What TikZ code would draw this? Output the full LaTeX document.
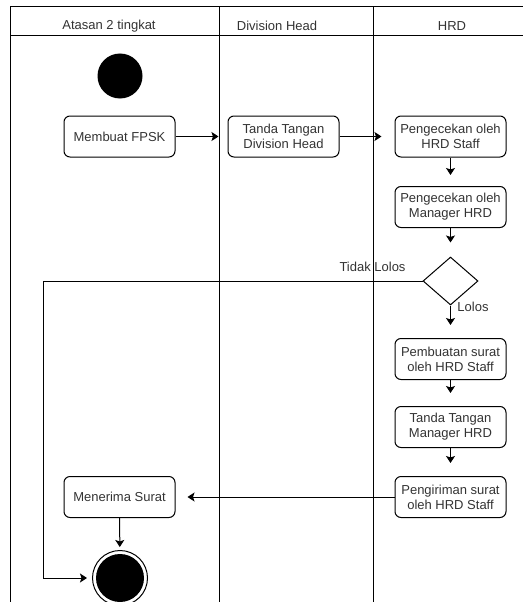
\documentclass[tikz,border=0pt]{standalone}
\usepackage{fontspec}
\setmainfont{Liberation Sans}
\usetikzlibrary{arrows.meta,shapes.geometric}
\begin{document}
\begin{tikzpicture}[x=1pt,y=-1pt,line width=1pt,
  txt/.style={font=\fontsize{13}{15}\selectfont,text=black!80},
  act/.style={txt,draw,rounded corners=6pt,minimum width=111pt,minimum height=41pt,
    align=center,inner sep=2pt},
  flow/.style={-{Stealth[length=7pt,width=9pt,inset=1.5pt]}},
  lbl/.style={txt,inner sep=0pt}]
\useasboundingbox (0,0) rectangle (523,602);

% swimlane pool
\draw (10,602) -- (10,7) -- (523,7);
\draw (10,36) -- (523,36);
\draw (219,7) -- (219,602);
\draw (373,7) -- (373,602);
\node[lbl] (laneA) at (109,26) {Atasan 2 tingkat};
\node[lbl] (laneB) at (277,26) {Division Head};
\node[lbl] (laneC) at (452,26) {HRD};

% initial node
\node[circle,fill=black,minimum size=45pt,inner sep=0pt] (start) at (120,76) {};

% activities
\node[act] (fpsk)   at (119.5,136.5) {Membuat FPSK};
\node[act] (dh)     at (283.5,136.5) {Tanda Tangan\\Division Head};
\node[act] (hrd1)   at (450.5,136.5) {Pengecekan oleh\\HRD Staff};
\node[act] (hrd2)   at (450.5,207)   {Pengecekan oleh\\Manager HRD};
\node[draw,diamond,minimum width=55pt,minimum height=48pt,inner sep=0pt] (dec) at (450.5,281) {};
\node[act] (surat)  at (450.5,359)   {Pembuatan surat\\oleh HRD Staff};
\node[act] (ttm)    at (450.5,427)   {Tanda Tangan\\Manager HRD};
\node[act] (kirim)  at (450.5,497)   {Pengiriman surat\\oleh HRD Staff};
\node[act] (terima) at (119.5,497)   {Menerima Surat};

% final node
\node[circle,draw,minimum size=55pt,inner sep=0pt] (endo) at (120,578) {};
\node[circle,fill=black,minimum size=48pt,inner sep=0pt] (endi) at (120,578) {};

% guard labels
\node[lbl] (tl) at (372.5,267) {Tidak Lolos};
\node[lbl] (ll) at (473,307) {Lolos};

% control flow
\draw[flow,shorten >=9pt]  (fpsk) -- (dh);
\draw[flow,shorten >=13pt] (dh) -- (hrd1);
\draw[flow,shorten >=11pt] (hrd1) -- (hrd2);
\draw[flow,shorten >=14pt] (hrd2) -- (dec);
\draw[flow,shorten >=13pt] (dec) -- (surat);
\draw[flow,shorten >=13pt] (surat) -- (ttm);
\draw[flow,shorten >=13pt] (ttm) -- (kirim);
\draw[flow,shorten >=12pt] (kirim) -- (terima);
\draw[flow,shorten >=3pt]  (terima) -- (endo);
\coordinate (loop) at (43,281);
\draw[flow,shorten >=5pt] (dec.west) -- (loop) |- (endo);
\end{tikzpicture}
\end{document}
